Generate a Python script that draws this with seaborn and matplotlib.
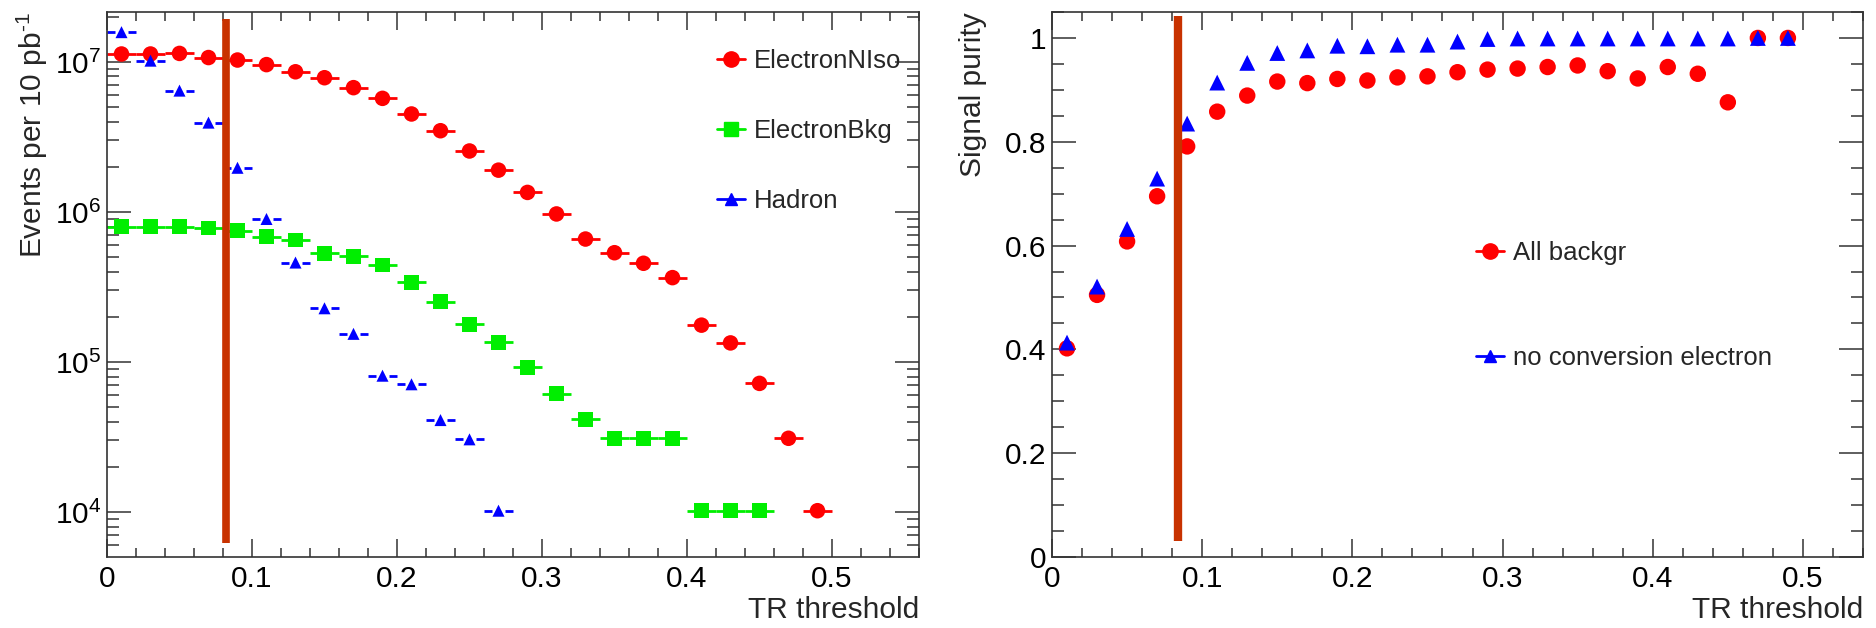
import numpy as np
import pandas as pd
import matplotlib
matplotlib.use("Agg")
import matplotlib.pyplot as plt
from matplotlib.lines import Line2D
from matplotlib.ticker import MultipleLocator, FormatStrFormatter, LogLocator, LogFormatterSciNotation, NullFormatter
import seaborn as sns

# ---------------- data ----------------
tr_bins = [0.01, 0.03, 0.05, 0.07, 0.09, 0.11, 0.13, 0.15, 0.17, 0.19, 0.21, 0.23, 0.25,
           0.27, 0.29, 0.31, 0.33, 0.35, 0.37, 0.39, 0.41, 0.43, 0.45, 0.47, 0.49]
bin_half_width = 0.01

electron_niso = [1.13e7, 1.13e7, 1.14e7, 1.07e7, 1.03e7, 9.6e6, 8.6e6, 7.85e6, 6.74e6, 5.72e6,
                 4.5e6, 3.48e6, 2.55e6, 1.9e6, 1.35e6, 9.7e5, 6.6e5, 5.35e5, 4.55e5, 3.65e5,
                 1.76e5, 1.34e5, 7.2e4, 3.1e4, 1.02e4]
electron_bkg = [8.0e5, 8.0e5, 8.0e5, 7.8e5, 7.5e5, 6.85e5, 6.5e5, 5.3e5, 5.06e5, 4.43e5,
                3.4e5, 2.52e5, 1.78e5, 1.35e5, 9.2e4, 6.15e4, 4.15e4, 3.1e4, 3.1e4, 3.1e4,
                1.02e4, 1.02e4, 1.02e4, np.nan, np.nan]
hadron = [1.58e7, 1.02e7, 6.44e6, 3.94e6, 1.97e6, 8.98e5, 4.6e5, 2.28e5, 1.54e5, 8.1e4,
          7.1e4, 4.1e4, 3.05e4, 1.02e4, np.nan, np.nan, np.nan, np.nan, np.nan, np.nan,
          np.nan, np.nan, np.nan, np.nan, np.nan]

purity_all_bkg = [0.402, 0.505, 0.608, 0.695, 0.791, 0.858, 0.889, 0.916, 0.913, 0.921,
                  0.918, 0.924, 0.926, 0.934, 0.939, 0.941, 0.944, 0.947, 0.936, 0.922,
                  0.944, 0.931, 0.876, 1.0, 1.0]
purity_no_conv = [0.413, 0.521, 0.632, 0.729, 0.835, 0.914, 0.952, 0.971, 0.976, 0.985,
                  0.984, 0.987, 0.987, 0.993, 0.998, 0.999, 0.999, 0.999, 0.999, 0.999,
                  0.999, 0.999, 0.999, 1.0, 1.0]

cut_left = 0.082
cut_left_range = (6.2e3, 1.94e7)
cut_right = 0.084
cut_right_range = (0.031, 1.043)

left_labels = ["ElectronNIso", "ElectronBkg", "Hadron"]
right_labels = ["All backgr", "no conversion electron"]

# ---------------- style ----------------
sns.set_theme(style="ticks")
plt.rcParams["font.family"] = ["Liberation Sans", "DejaVu Sans"]
plt.rcParams["mathtext.fontset"] = "custom"
plt.rcParams["mathtext.rm"] = "Liberation Sans"
plt.rcParams["mathtext.it"] = "Liberation Sans:italic"
plt.rcParams["mathtext.sf"] = "Liberation Sans"
plt.rcParams["axes.edgecolor"] = "#333333"
plt.rcParams["xtick.color"] = "#333333"
plt.rcParams["ytick.color"] = "#333333"
plt.rcParams["xtick.labelcolor"] = "black"
plt.rcParams["ytick.labelcolor"] = "black"

RED, GREEN, BLUE = "#ff0000", "#00ee00", "#0000ff"
CUT_COLOR = "#c83200"
TICK_FS = 21.5
LABEL_FS = 21.5
LEG_FS = 18.5

fig = plt.figure(figsize=(18.76, 6.28), dpi=100)
axL = fig.add_axes([107 / 1876, 1 - 557 / 628, 812 / 1876, 545 / 628])
axR = fig.add_axes([1052 / 1876, 1 - 557 / 628, 811 / 1876, 545 / 628])

df = pd.DataFrame({"x": tr_bins, "niso": electron_niso, "bkg": electron_bkg, "had": hadron,
                   "pall": purity_all_bkg, "pnc": purity_no_conv})


def xbars(ax, x, y, color, gap=0.0, lw=2.0):
    x = np.asarray(x, float)
    y = np.asarray(y, float)
    m = ~np.isnan(y)
    x, y = x[m], y[m]
    if gap <= 0:
        ax.hlines(y, x - bin_half_width, x + bin_half_width, color=color, lw=lw, zorder=2)
    else:
        ax.hlines(y, x - bin_half_width, x - gap, color=color, lw=lw, zorder=2)
        ax.hlines(y, x + gap, x + bin_half_width, color=color, lw=lw, zorder=2)


# ---------- left panel ----------
xbars(axL, df.x, df.niso, RED)
xbars(axL, df.x, df.bkg, GREEN)
xbars(axL, df.x, df.had, BLUE, gap=0.0045)
sns.scatterplot(data=df.dropna(subset=["niso"]), x="x", y="niso", ax=axL, marker="o", s=125,
                color=RED, edgecolor="none", legend=False, zorder=3)
sns.scatterplot(data=df.dropna(subset=["bkg"]), x="x", y="bkg", ax=axL, marker="s", s=110,
                color=GREEN, edgecolor="none", legend=False, zorder=3)
sns.scatterplot(data=df.dropna(subset=["had"]), x="x", y="had", ax=axL, marker="^", s=75,
                color=BLUE, edgecolor="none", legend=False, zorder=3)
axL.vlines(cut_left, cut_left_range[0], cut_left_range[1], color=CUT_COLOR, lw=5.5, zorder=4)

axL.set_yscale("log")
axL.set_xlim(0, 0.56)
axL.set_ylim(10 ** 3.7, 10 ** 7.333)
axL.xaxis.set_major_locator(MultipleLocator(0.1))
axL.xaxis.set_minor_locator(MultipleLocator(0.02))
axL.xaxis.set_major_formatter(FormatStrFormatter("%g"))
axL.yaxis.set_major_locator(LogLocator(base=10, numticks=10))
axL.yaxis.set_minor_locator(LogLocator(base=10, subs=np.arange(2, 10), numticks=20))
axL.yaxis.set_major_formatter(LogFormatterSciNotation())
axL.yaxis.set_minor_formatter(NullFormatter())
axL.set_xlabel("TR threshold", fontsize=LABEL_FS, loc="right")
axL.set_ylabel(r"Events per 10 pb$^{\text{-}1}$", fontsize=LABEL_FS, loc="top")
axL.xaxis.set_label_coords(1.0, -0.072)
axL.yaxis.set_label_coords(-0.070, 1.0)

hL = [Line2D([], [], color=RED, marker="o", markersize=11, lw=2),
      Line2D([], [], color=GREEN, marker="s", markersize=10.5, lw=2),
      Line2D([], [], color=BLUE, marker="^", markersize=9, lw=2)]
legL = axL.legend(hL, left_labels, loc="upper left", bbox_to_anchor=(0.751, 0.932),
                  frameon=False, fontsize=LEG_FS, handlelength=1.1, handletextpad=0.35,
                  labelspacing=1.78, borderpad=0, borderaxespad=0)

# ---------- right panel ----------
sns.scatterplot(data=df, x="x", y="pnc", ax=axR, marker="^", s=130,
                color=BLUE, edgecolor="none", legend=False, zorder=3)
sns.scatterplot(data=df, x="x", y="pall", ax=axR, marker="o", s=140,
                color=RED, edgecolor="none", legend=False, zorder=2)
axR.vlines(cut_right, cut_right_range[0], cut_right_range[1], color=CUT_COLOR, lw=6, zorder=4)

axR.set_xlim(0, 0.54)
axR.set_ylim(0, 1.05)
axR.xaxis.set_major_locator(MultipleLocator(0.1))
axR.xaxis.set_minor_locator(MultipleLocator(0.02))
axR.xaxis.set_major_formatter(FormatStrFormatter("%g"))
axR.yaxis.set_major_locator(MultipleLocator(0.2))
axR.yaxis.set_minor_locator(MultipleLocator(0.05))
axR.yaxis.set_major_formatter(FormatStrFormatter("%g"))
axR.set_xlabel("TR threshold", fontsize=LABEL_FS, loc="right")
axR.set_ylabel("Signal purity", fontsize=LABEL_FS, loc="top")
axR.xaxis.set_label_coords(1.0, -0.072)
axR.yaxis.set_label_coords(-0.080, 1.0)

hR = [Line2D([], [], color=RED, marker="o", markersize=11, lw=2),
      Line2D([], [], color=BLUE, marker="^", markersize=9, lw=2)]
legR = axR.legend(hR, right_labels, loc="upper left", bbox_to_anchor=(0.523, 0.579),
                  frameon=False, fontsize=LEG_FS, handlelength=1.1, handletextpad=0.35,
                  labelspacing=3.12, borderpad=0, borderaxespad=0)

for ax in (axL, axR):
    for s in ax.spines.values():
        s.set_linewidth(1.2)
        s.set_visible(True)
    ax.tick_params(which="both", direction="in", top=True, right=True, width=1.1)
    ax.tick_params(axis="x", which="major", length=13, labelsize=TICK_FS, pad=6)
    ax.tick_params(axis="x", which="minor", length=6.5)
    ax.tick_params(axis="y", which="major", length=17.5, labelsize=TICK_FS, pad=4)
    ax.tick_params(axis="y", which="minor", length=8.7)
    ax.set_facecolor("white")

fig.savefig("out.png", dpi=100, facecolor="white")
